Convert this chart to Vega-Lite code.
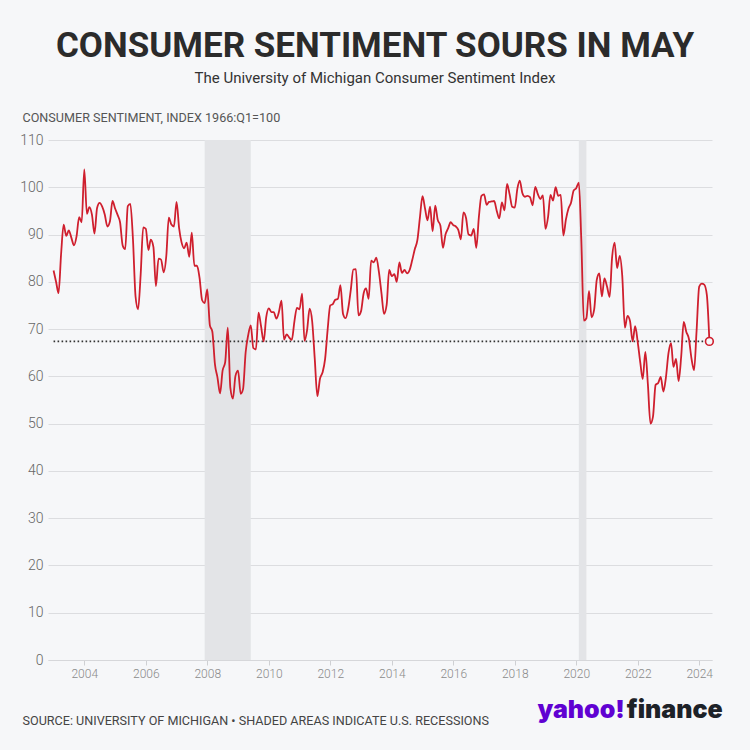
{
  "$schema": "https://vega.github.io/schema/vega-lite/v6.json",
  "width": 664,
  "height": 520,
  "autosize": "none",
  "padding": {"left": 48, "top": 140, "right": 38, "bottom": 90},
  "background": "#f6f7f9",
  "title": {
    "text": "CONSUMER SENTIMENT SOURS IN MAY",
    "subtitle": "The University of Michigan Consumer Sentiment Index",
    "anchor": "middle",
    "dx": -5,
    "offset": 25,
    "font": "Roboto",
    "fontSize": 35,
    "fontWeight": "bold",
    "color": "#2b2b2b",
    "subtitleFont": "Roboto",
    "subtitleFontSize": 15,
    "subtitleColor": "#333333",
    "subtitlePadding": 7
  },
  "config": {
    "view": {"stroke": null},
    "font": "Roboto"
  },
  "datasets": {
    "sent": [
      {"d":"2003-01-01","v":82.4},{"d":"2003-02-01","v":79.9},{"d":"2003-03-01","v":77.6},{"d":"2003-04-01","v":86.0},{"d":"2003-05-01","v":92.1},{"d":"2003-06-01","v":89.7},{"d":"2003-07-01","v":90.9},{"d":"2003-08-01","v":89.3},{"d":"2003-09-01","v":87.7},{"d":"2003-10-01","v":89.6},{"d":"2003-11-01","v":93.7},{"d":"2003-12-01","v":92.6},
      {"d":"2004-01-01","v":103.8},{"d":"2004-02-01","v":94.4},{"d":"2004-03-01","v":95.8},{"d":"2004-04-01","v":94.2},{"d":"2004-05-01","v":90.2},{"d":"2004-06-01","v":95.6},{"d":"2004-07-01","v":96.7},{"d":"2004-08-01","v":95.9},{"d":"2004-09-01","v":94.2},{"d":"2004-10-01","v":91.7},{"d":"2004-11-01","v":92.8},{"d":"2004-12-01","v":97.1},
      {"d":"2005-01-01","v":95.5},{"d":"2005-02-01","v":94.1},{"d":"2005-03-01","v":92.6},{"d":"2005-04-01","v":87.7},{"d":"2005-05-01","v":86.9},{"d":"2005-06-01","v":96.0},{"d":"2005-07-01","v":96.5},{"d":"2005-08-01","v":89.1},{"d":"2005-09-01","v":76.9},{"d":"2005-10-01","v":74.2},{"d":"2005-11-01","v":81.6},{"d":"2005-12-01","v":91.5},
      {"d":"2006-01-01","v":91.2},{"d":"2006-02-01","v":86.7},{"d":"2006-03-01","v":88.9},{"d":"2006-04-01","v":87.4},{"d":"2006-05-01","v":79.1},{"d":"2006-06-01","v":84.9},{"d":"2006-07-01","v":84.7},{"d":"2006-08-01","v":82.0},{"d":"2006-09-01","v":85.4},{"d":"2006-10-01","v":93.6},{"d":"2006-11-01","v":92.1},{"d":"2006-12-01","v":91.7},
      {"d":"2007-01-01","v":96.9},{"d":"2007-02-01","v":91.3},{"d":"2007-03-01","v":88.4},{"d":"2007-04-01","v":87.1},{"d":"2007-05-01","v":88.3},{"d":"2007-06-01","v":85.3},{"d":"2007-07-01","v":90.4},{"d":"2007-08-01","v":83.4},{"d":"2007-09-01","v":83.4},{"d":"2007-10-01","v":80.9},{"d":"2007-11-01","v":76.1},{"d":"2007-12-01","v":75.5},
      {"d":"2008-01-01","v":78.4},{"d":"2008-02-01","v":70.8},{"d":"2008-03-01","v":69.5},{"d":"2008-04-01","v":62.6},{"d":"2008-05-01","v":59.8},{"d":"2008-06-01","v":56.4},{"d":"2008-07-01","v":61.2},{"d":"2008-08-01","v":63.0},{"d":"2008-09-01","v":70.3},{"d":"2008-10-01","v":57.6},{"d":"2008-11-01","v":55.3},{"d":"2008-12-01","v":60.1},
      {"d":"2009-01-01","v":61.2},{"d":"2009-02-01","v":56.3},{"d":"2009-03-01","v":57.3},{"d":"2009-04-01","v":65.1},{"d":"2009-05-01","v":68.7},{"d":"2009-06-01","v":70.8},{"d":"2009-07-01","v":66.0},{"d":"2009-08-01","v":65.7},{"d":"2009-09-01","v":73.5},{"d":"2009-10-01","v":70.6},{"d":"2009-11-01","v":67.4},{"d":"2009-12-01","v":72.5},
      {"d":"2010-01-01","v":74.4},{"d":"2010-02-01","v":73.6},{"d":"2010-03-01","v":73.6},{"d":"2010-04-01","v":72.2},{"d":"2010-05-01","v":73.6},{"d":"2010-06-01","v":76.0},{"d":"2010-07-01","v":67.8},{"d":"2010-08-01","v":68.9},{"d":"2010-09-01","v":68.2},{"d":"2010-10-01","v":67.7},{"d":"2010-11-01","v":71.6},{"d":"2010-12-01","v":74.5},
      {"d":"2011-01-01","v":74.2},{"d":"2011-02-01","v":77.5},{"d":"2011-03-01","v":67.5},{"d":"2011-04-01","v":69.8},{"d":"2011-05-01","v":74.3},{"d":"2011-06-01","v":71.5},{"d":"2011-07-01","v":63.7},{"d":"2011-08-01","v":55.8},{"d":"2011-09-01","v":59.5},{"d":"2011-10-01","v":60.8},{"d":"2011-11-01","v":63.7},{"d":"2011-12-01","v":69.9},
      {"d":"2012-01-01","v":75.0},{"d":"2012-02-01","v":75.3},{"d":"2012-03-01","v":76.2},{"d":"2012-04-01","v":76.4},{"d":"2012-05-01","v":79.3},{"d":"2012-06-01","v":73.2},{"d":"2012-07-01","v":72.3},{"d":"2012-08-01","v":74.3},{"d":"2012-09-01","v":78.3},{"d":"2012-10-01","v":82.6},{"d":"2012-11-01","v":82.7},{"d":"2012-12-01","v":72.9},
      {"d":"2013-01-01","v":73.8},{"d":"2013-02-01","v":77.6},{"d":"2013-03-01","v":78.6},{"d":"2013-04-01","v":76.4},{"d":"2013-05-01","v":84.5},{"d":"2013-06-01","v":84.1},{"d":"2013-07-01","v":85.1},{"d":"2013-08-01","v":82.1},{"d":"2013-09-01","v":77.5},{"d":"2013-10-01","v":73.2},{"d":"2013-11-01","v":75.1},{"d":"2013-12-01","v":82.5},
      {"d":"2014-01-01","v":81.2},{"d":"2014-02-01","v":81.6},{"d":"2014-03-01","v":80.0},{"d":"2014-04-01","v":84.1},{"d":"2014-05-01","v":81.9},{"d":"2014-06-01","v":82.5},{"d":"2014-07-01","v":81.8},{"d":"2014-08-01","v":82.5},{"d":"2014-09-01","v":84.6},{"d":"2014-10-01","v":86.9},{"d":"2014-11-01","v":88.8},{"d":"2014-12-01","v":93.6},
      {"d":"2015-01-01","v":98.1},{"d":"2015-02-01","v":95.4},{"d":"2015-03-01","v":93.0},{"d":"2015-04-01","v":95.9},{"d":"2015-05-01","v":90.7},{"d":"2015-06-01","v":96.1},{"d":"2015-07-01","v":93.1},{"d":"2015-08-01","v":91.9},{"d":"2015-09-01","v":87.2},{"d":"2015-10-01","v":90.0},{"d":"2015-11-01","v":91.3},{"d":"2015-12-01","v":92.6},
      {"d":"2016-01-01","v":92.0},{"d":"2016-02-01","v":91.7},{"d":"2016-03-01","v":91.0},{"d":"2016-04-01","v":89.0},{"d":"2016-05-01","v":94.7},{"d":"2016-06-01","v":93.5},{"d":"2016-07-01","v":90.0},{"d":"2016-08-01","v":89.8},{"d":"2016-09-01","v":91.2},{"d":"2016-10-01","v":87.2},{"d":"2016-11-01","v":93.8},{"d":"2016-12-01","v":98.2},
      {"d":"2017-01-01","v":98.5},{"d":"2017-02-01","v":96.3},{"d":"2017-03-01","v":96.9},{"d":"2017-04-01","v":97.0},{"d":"2017-05-01","v":97.1},{"d":"2017-06-01","v":95.0},{"d":"2017-07-01","v":93.4},{"d":"2017-08-01","v":96.8},{"d":"2017-09-01","v":95.1},{"d":"2017-10-01","v":100.7},{"d":"2017-11-01","v":98.5},{"d":"2017-12-01","v":95.9},
      {"d":"2018-01-01","v":95.7},{"d":"2018-02-01","v":99.7},{"d":"2018-03-01","v":101.4},{"d":"2018-04-01","v":98.8},{"d":"2018-05-01","v":98.0},{"d":"2018-06-01","v":98.2},{"d":"2018-07-01","v":97.9},{"d":"2018-08-01","v":96.2},{"d":"2018-09-01","v":100.1},{"d":"2018-10-01","v":98.6},{"d":"2018-11-01","v":97.5},{"d":"2018-12-01","v":98.3},
      {"d":"2019-01-01","v":91.2},{"d":"2019-02-01","v":93.8},{"d":"2019-03-01","v":98.4},{"d":"2019-04-01","v":97.2},{"d":"2019-05-01","v":100.0},{"d":"2019-06-01","v":98.2},{"d":"2019-07-01","v":98.4},{"d":"2019-08-01","v":89.8},{"d":"2019-09-01","v":93.2},{"d":"2019-10-01","v":95.5},{"d":"2019-11-01","v":96.8},{"d":"2019-12-01","v":99.3},
      {"d":"2020-01-01","v":99.8},{"d":"2020-02-01","v":101.0},{"d":"2020-03-01","v":89.1},{"d":"2020-04-01","v":71.8},{"d":"2020-05-01","v":72.3},{"d":"2020-06-01","v":78.1},{"d":"2020-07-01","v":72.5},{"d":"2020-08-01","v":74.1},{"d":"2020-09-01","v":80.4},{"d":"2020-10-01","v":81.8},{"d":"2020-11-01","v":76.9},{"d":"2020-12-01","v":80.7},
      {"d":"2021-01-01","v":79.0},{"d":"2021-02-01","v":76.8},{"d":"2021-03-01","v":84.9},{"d":"2021-04-01","v":88.3},{"d":"2021-05-01","v":82.9},{"d":"2021-06-01","v":85.5},{"d":"2021-07-01","v":81.2},{"d":"2021-08-01","v":70.3},{"d":"2021-09-01","v":72.8},{"d":"2021-10-01","v":71.7},{"d":"2021-11-01","v":67.4},{"d":"2021-12-01","v":70.6},
      {"d":"2022-01-01","v":67.2},{"d":"2022-02-01","v":62.8},{"d":"2022-03-01","v":59.4},{"d":"2022-04-01","v":65.2},{"d":"2022-05-01","v":58.4},{"d":"2022-06-01","v":50.0},{"d":"2022-07-01","v":51.5},{"d":"2022-08-01","v":58.2},{"d":"2022-09-01","v":58.6},{"d":"2022-10-01","v":59.9},{"d":"2022-11-01","v":56.8},{"d":"2022-12-01","v":59.7},
      {"d":"2023-01-01","v":64.9},{"d":"2023-02-01","v":67.0},{"d":"2023-03-01","v":62.0},{"d":"2023-04-01","v":63.7},{"d":"2023-05-01","v":59.0},{"d":"2023-06-01","v":64.2},{"d":"2023-07-01","v":71.5},{"d":"2023-08-01","v":69.4},{"d":"2023-09-01","v":67.9},{"d":"2023-10-01","v":63.8},{"d":"2023-11-01","v":61.3},{"d":"2023-12-01","v":69.7},
      {"d":"2024-01-01","v":79.0},{"d":"2024-02-01","v":79.6},{"d":"2024-03-01","v":79.4},{"d":"2024-04-01","v":77.2},{"d":"2024-05-01","v":67.4}
    ],
    "rec": [
      {"start":"2007-12-01","end":"2009-06-01"},
      {"start":"2020-02-01","end":"2020-05-01"}
    ],
    "ref": [
      {"start":"2003-01-01","end":"2024-05-01","v":67.4}
    ],
    "last": [
      {"d":"2024-05-01","v":67.4}
    ],
    "logo": [
      {"t":"yahoo!","d":"2021-08-01","v":-12.3,"part":"a"},
      {"t":"finance","d":"2024-10-06","v":-12.3,"part":"b"}
    ]
  },
  "layer": [
    {
      "data": {"name": "rec"},
      "mark": {"type": "rect", "color": "#e3e4e7"},
      "encoding": {
        "x": {
          "field": "start", "type": "temporal",
          "scale": {"domain": ["2002-10-27", "2024-06-01"]},
          "axis": {
            "values": [{"year":2004},{"year":2006},{"year":2008},{"year":2010},{"year":2012},{"year":2014},{"year":2016},{"year":2018},{"year":2020},{"year":2022},{"year":2024}],
            "format": "%Y",
            "grid": false,
            "domain": true,
            "domainColor": "#d6d7da",
            "ticks": true,
            "tickColor": "#cfd0d3",
            "tickSize": 5,
            "labelColor": "#8a8a8a",
            "labelFontSize": 12,
            "labelFontWeight": 300,
            "labelPadding": 3,
            "title": "SOURCE: UNIVERSITY OF MICHIGAN • SHADED AREAS INDICATE U.S. RECESSIONS",
            "titleX": -26,
            "titleY": 60,
            "titleAlign": "left",
            "titleAnchor": "start",
            "titleBaseline": "middle",
            "titleFontSize": 12.6,
            "titleFontWeight": "normal",
            "titleColor": "#444444"
          }
        },
        "x2": {"field": "end"}
      }
    },
    {
      "data": {"name": "ref"},
      "mark": {"type": "rule", "color": "#333333", "strokeWidth": 1.6, "strokeDash": [1.6, 2.4]},
      "encoding": {
        "x": {"field": "start", "type": "temporal"},
        "x2": {"field": "end"},
        "y": {"field": "v", "type": "quantitative"}
      }
    },
    {
      "data": {"name": "sent"},
      "mark": {"type": "line", "color": "#cf1f2e", "strokeWidth": 1.8, "interpolate": "monotone"},
      "encoding": {
        "x": {"field": "d", "type": "temporal"},
        "y": {
          "field": "v", "type": "quantitative",
          "scale": {"domain": [0, 110], "nice": false, "zero": true},
          "axis": {
            "values": [0,10,20,30,40,50,60,70,80,90,100,110],
            "grid": true,
            "gridColor": "#dcdde0",
            "gridWidth": 1,
            "domain": false,
            "ticks": false,
            "labelColor": "#666666",
            "labelFontSize": 14,
            "labelFontWeight": 300,
            "labelPadding": 5,
            "title": "CONSUMER SENTIMENT, INDEX 1966:Q1=100",
            "titleAngle": 0,
            "titleX": -26,
            "titleY": -23,
            "titleAlign": "left",
            "titleBaseline": "middle",
            "titleFontSize": 12.6,
            "titleFontWeight": "normal",
            "titleColor": "#555555"
          }
        }
      }
    },
    {
      "data": {"name": "last"},
      "mark": {"type": "point", "filled": true, "fill": "#f6f7f9", "stroke": "#cf1f2e", "strokeWidth": 1.6, "size": 60, "opacity": 1},
      "encoding": {
        "x": {"field": "d", "type": "temporal"},
        "y": {"field": "v", "type": "quantitative"}
      }
    },
    {
      "data": {"name": "logo"},
      "mark": {"type": "text", "align": "right", "baseline": "alphabetic", "font": "Inter", "fontSize": 25, "fontWeight": 900},
      "encoding": {
        "x": {"field": "d", "type": "temporal"},
        "y": {"field": "v", "type": "quantitative"},
        "text": {"field": "t"},
        "color": {"field": "part", "type": "nominal", "scale": {"domain": ["a","b"], "range": ["#6001d2", "#1d2228"]}, "legend": null}
      }
    }
  ]
}
